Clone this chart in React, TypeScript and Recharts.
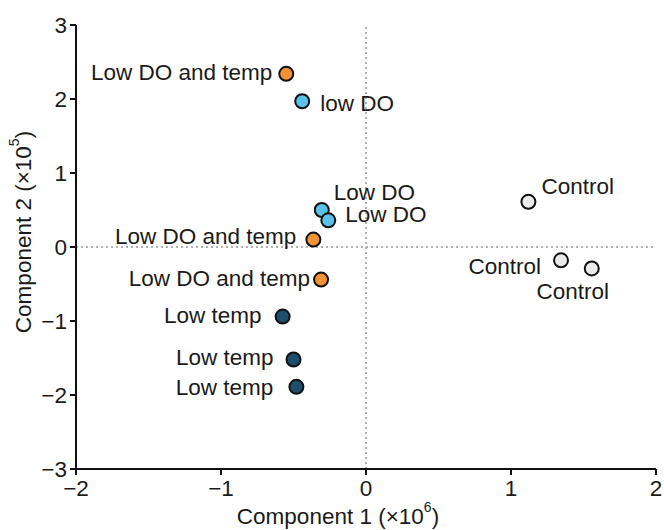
import React from 'react';
import { ScatterChart, Scatter, XAxis, YAxis, ReferenceLine, Label } from 'recharts';

// Component scores (x in 10^6, y in 10^5)
const lowDOTempX = [-0.55, -0.363, -0.31];
const lowDOTempY = [2.34, 0.1, -0.44];
const lowDOTempLabels = ['Low DO and temp', 'Low DO and temp', 'Low DO and temp'];

const lowDOX = [-0.44, -0.305, -0.26];
const lowDOY = [1.97, 0.5, 0.36];
const lowDOLabels = ['low DO', 'Low DO', 'Low DO'];

const lowTempX = [-0.575, -0.5, -0.48];
const lowTempY = [-0.94, -1.52, -1.89];
const lowTempLabels = ['Low temp', 'Low temp', 'Low temp'];

const controlX = [1.12, 1.345, 1.557];
const controlY = [0.61, -0.18, -0.29];
const controlLabels = ['Control', 'Control', 'Control'];

const xTicks = [-2, -1, 0, 1, 2];
const yTicks = [-3, -2, -1, 0, 1, 2, 3];

const FONT = '"Liberation Sans", Arial, Helvetica, sans-serif';
const FS = 22.5;

type Anchor = 'start' | 'middle' | 'end';
// label offset from point centre: [dx, dy, anchor]
type Place = [number, number, Anchor];

const lowDOTempPlace: Place[] = [[-14, -1, 'end'], [-17, -3, 'end'], [-11, -1, 'end']];
const lowDOPlace: Place[] = [[18, 2, 'start'], [12, -18, 'start'], [17, -6, 'start']];
const lowTempPlace: Place[] = [[-21, -1, 'end'], [-20, -2, 'end'], [-23, 1, 'end']];
const controlPlace: Place[] = [[13, -15, 'start'], [-20, 6, 'end'], [-19, 23, 'middle']];

const build = (xs: number[], ys: number[], labels: string[]) =>
  xs.map((x, i) => ({ x, y: ys[i], label: labels[i], i }));

const makeShape = (fill: string, places: Place[]) => (props: any) => {
  const { cx, cy, payload } = props;
  const [dx, dy, anchor] = places[payload.i];
  return (
    <g>
      <circle cx={cx} cy={cy} r={7} fill={fill} stroke="#111" strokeWidth={2} />
      <text
        x={cx + dx}
        y={cy + dy}
        textAnchor={anchor}
        dominantBaseline="central"
        fontSize={FS}
        fill="#1a1a1a"
        fontFamily={FONT}
      >
        {payload.label}
      </text>
    </g>
  );
};

const fmt = (v: number) => (v < 0 ? `\u2212${Math.abs(v)}` : `${v}`);

const XTitle = (props: any) => {
  const { x, width } = props.viewBox;
  return (
    <text x={x + width / 2 - 28} y={524} textAnchor="middle" fontSize={FS} fill="#1a1a1a" fontFamily={FONT}>
      Component 1 (×10
      <tspan fontSize={14} dy={-12}>6</tspan>
      <tspan dy={12}>)</tspan>
    </text>
  );
};

const YTitle = (props: any) => {
  const { y, height } = props.viewBox;
  const cy = y + height / 2 - 15;
  return (
    <text
      x={31}
      y={cy}
      transform={`rotate(-90, 31, ${cy})`}
      textAnchor="middle"
      fontSize={FS}
      fill="#1a1a1a"
      fontFamily={FONT}
    >
      Component 2 (×10
      <tspan fontSize={14} dy={-12}>5</tspan>
      <tspan dy={12}>)</tspan>
    </text>
  );
};

export default function App() {
  const axisStyle = { stroke: '#111', strokeWidth: 2 };
  const tickStyle = { fontSize: FS, fill: '#1a1a1a', fontFamily: FONT };
  return (
    <div style={{ position: 'absolute', left: 0, top: 0, width: 664, height: 530, background: '#fff', fontFamily: FONT }}>
      <ScatterChart width={664} height={530} margin={{ top: 25, right: 8, bottom: 0, left: 0 }}>
        <XAxis
          type="number"
          dataKey="x"
          domain={[-2, 2]}
          ticks={xTicks}
          tickFormatter={fmt}
          height={61}
          tickSize={6}
          tickMargin={5}
          axisLine={axisStyle}
          tickLine={axisStyle}
          tick={tickStyle}
          allowDataOverflow
        >
          <Label content={XTitle} />
        </XAxis>
        <YAxis
          type="number"
          dataKey="y"
          domain={[-3, 3]}
          ticks={yTicks}
          tickFormatter={fmt}
          width={76}
          tickSize={6}
          tickMargin={3}
          axisLine={axisStyle}
          tickLine={axisStyle}
          tick={tickStyle}
          allowDataOverflow
        >
          <Label content={YTitle} />
        </YAxis>
        <ReferenceLine x={0} stroke="#b0b0b0" strokeWidth={2} strokeDasharray="2 3" />
        <ReferenceLine y={0} stroke="#b0b0b0" strokeWidth={2} strokeDasharray="2 3" />
        <Scatter data={build(lowDOTempX, lowDOTempY, lowDOTempLabels)} shape={makeShape('#F39233', lowDOTempPlace)} isAnimationActive={false} />
        <Scatter data={build(lowDOX, lowDOY, lowDOLabels)} shape={makeShape('#5BC2E7', lowDOPlace)} isAnimationActive={false} />
        <Scatter data={build(lowTempX, lowTempY, lowTempLabels)} shape={makeShape('#1D4E6B', lowTempPlace)} isAnimationActive={false} />
        <Scatter data={build(controlX, controlY, controlLabels)} shape={makeShape('#EDEBEA', controlPlace)} isAnimationActive={false} />
      </ScatterChart>
    </div>
  );
}
